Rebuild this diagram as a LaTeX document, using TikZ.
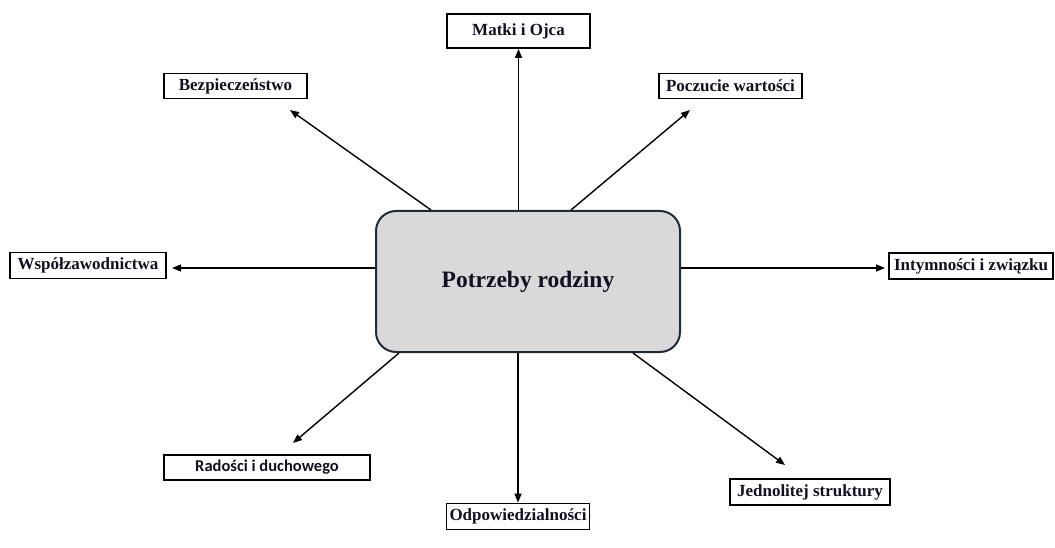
\documentclass[tikz,border=0pt]{standalone}
\usepackage{fontspec}
\setmainfont{Liberation Serif}
\newfontfamily\labelsans{Carlito}
\usetikzlibrary{arrows.meta}
\definecolor{hubfill}{HTML}{D9D9D9}
\definecolor{hubline}{HTML}{1F2C38}
\definecolor{ink}{HTML}{111122}
\begin{document}
\begin{tikzpicture}[x=1pt,y=-1pt,
  hub/.style={draw=hubline,line width=2pt,fill=hubfill,rounded corners=20pt,
    minimum width=304pt,minimum height=141pt,inner sep=0pt,
    font=\bfseries\fontsize{23.5}{28}\selectfont,text=ink},
  need/.style={draw=black,line width=1.8pt,fill=white,inner sep=0pt,
    minimum height=25pt,font=\bfseries\fontsize{17}{19}\selectfont,text=ink},
  link/.style={line width=1.4pt,-{Triangle[length=9pt,width=7pt]}}]
\useasboundingbox (0,0) rectangle (1055,548);

% central need
\node[hub] (hub) at (528,281.5) {Potrzeby rodziny};

% surrounding needs
\node[need,minimum width=143pt,minimum height=34pt] (matki) at (518.5,31) {Matki i Ojca};
\node[need,minimum width=143pt] (bezp) at (235.5,86) {Bezpieczeństwo};
\node[need,minimum width=143pt] (pocz) at (730.5,86) {Poczucie wartości};
\node[need,minimum width=156pt,minimum height=26pt] (wspol) at (88,265.5) {Współzawodnictwa};
\node[need,minimum width=164pt,minimum height=26pt] (intym) at (971,266) {Intymności i związku};
\node[need,minimum width=206pt,font=\labelsans\bfseries\fontsize{16.5}{19}\selectfont] (rados) at (267,467.5) {Radości i duchowego};
\node[need,minimum width=143pt,minimum height=26pt] (odpow) at (518,516.5) {Odpowiedzialności};
\node[need,minimum width=160pt,minimum height=26pt] (jedno) at (810,492) {Jednolitej struktury};

% free arrow tips
\coordinate (tBezp) at (290,110);
\coordinate (tPocz) at (690,110);
\coordinate (tWspol) at (172,268);
\coordinate (tIntym) at (885,268);
\coordinate (tRados) at (293,443);
\coordinate (tJedno) at (785,465);

% connectors
\draw[link] (hub.north -| matki) -- (matki.south);
\draw[link] ([xshift=56pt]hub.north west) -- (tBezp);
\draw[link] ([xshift=-110pt]hub.north east) -- (tPocz);
\draw[link] (hub.west |- tWspol) -- (tWspol);
\draw[link] (hub.east |- tIntym) -- (tIntym);
\draw[link] ([xshift=24pt]hub.south west) -- (tRados);
\draw[link] (hub.south -| odpow) -- (odpow.north);
\draw[link] ([xshift=-48pt]hub.south east) -- (tJedno);
\end{tikzpicture}
\end{document}
